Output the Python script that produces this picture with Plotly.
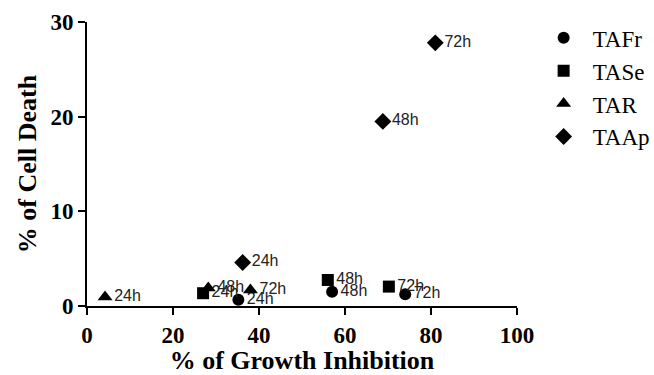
import plotly.graph_objects as go

series_names = ["TAFr", "TASe", "TAR", "TAAp"]
time_labels = ["24h", "48h", "72h"]
tafr_x = [35.2, 57.0, 74.0]
tafr_y = [0.65, 1.5, 1.25]
tase_x = [27.0, 56.0, 70.2]
tase_y = [1.35, 2.75, 2.05]
tar_x = [4.2, 28.2, 38.0]
tar_y = [0.95, 1.9, 1.7]
taap_x = [36.2, 68.8, 81.0]
taap_y = [4.6, 19.5, 27.8]
x_ticks = [0, 20, 40, 60, 80, 100]
y_ticks = [0, 10, 20, 30]

xs = [tafr_x, tase_x, tar_x, taap_x]
ys = [tafr_y, tase_y, tar_y, taap_y]
symbols = ["circle", "square", "triangle-up", "diamond"]
sizes = [12, 12, 13, 13]

serif = "Liberation Serif, Times New Roman, serif"

fig = go.Figure()
for name, x, y, sym, sz in zip(series_names, xs, ys, symbols, sizes):
    fig.add_trace(go.Scatter(
        x=x, y=y, name=name, mode="markers+text",
        text=time_labels, textposition="middle right",
        textfont=dict(family="Liberation Sans, Arial", size=16, color="#222"),
        marker=dict(symbol=sym, size=sz, color="black"),
        cliponaxis=False,
    ))

axis_common = dict(
    showgrid=False, zeroline=False, showline=True, linecolor="black", linewidth=2,
    ticks="outside", ticklen=7, tickwidth=2, tickcolor="black", automargin=False,
    tickfont=dict(family=serif, size=23, color="black", weight="bold"),
)
fig.update_layout(
    width=654, height=375,
    margin=dict(l=87, r=137, t=22, b=69, autoexpand=False),
    plot_bgcolor="white", paper_bgcolor="white",
    xaxis=dict(range=[0, 100], tickvals=x_ticks,
               title=dict(text="<b>% of Growth Inhibition</b>", standoff=2,
                          font=dict(family=serif, size=26, color="black")),
               **axis_common),
    yaxis=dict(range=[0, 30], tickvals=y_ticks,
               title=dict(text="<b>% of Cell Death</b>", standoff=6,
                          font=dict(family=serif, size=26, color="black")),
               **axis_common),
    legend=dict(x=1.041, y=1.02, xanchor="left", yanchor="top", itemwidth=48,
                font=dict(family=serif, size=23, color="black"),
                bgcolor="rgba(0,0,0,0)"),
)
fig.write_html("out.html", config={"displayModeBar": False},
               post_script="document.body.style.margin='0';")
